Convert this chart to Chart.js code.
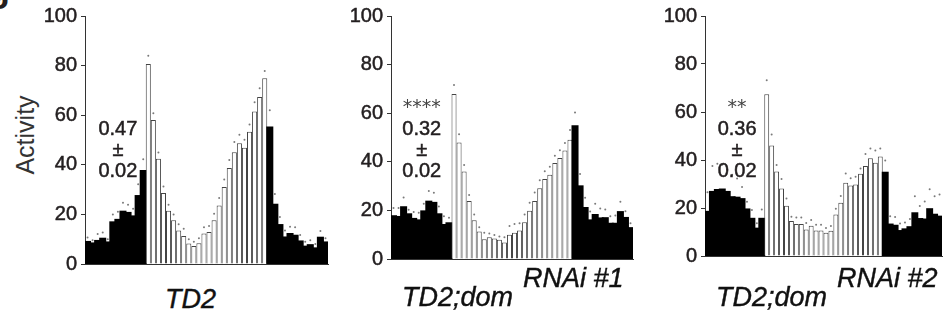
<!DOCTYPE html>
<html>
<head>
<meta charset="utf-8">
<script src="https://cdn.jsdelivr.net/npm/chart.js@4.4.1/dist/chart.umd.min.js"></script>
<style>
  html, body { margin: 0; padding: 0; background: #fff; overflow: hidden; }
  body { width: 946px; height: 320px; position: relative; font-family: "Liberation Sans", Arial, sans-serif; color: #231f20; }
  canvas { position: absolute; top: 0; }
  .lbl { position: absolute; font-style: italic; white-space: nowrap; line-height: 1; font-size: 27px; color: #111;
         -webkit-text-stroke: 0.4px #111; }
  #letter { position: absolute; left: -12px; top: -29px; font: bold 36px/1 "Liberation Sans", Arial, sans-serif; }
  #ytitle { position: absolute; left: 25px; top: 135px; font-size: 25px; line-height: 1; color: #333;
            transform: translate(-50%, -50%) rotate(-90deg); white-space: nowrap; }
</style>
</head>
<body>
<div id="letter">g</div>
<div id="ytitle">Activity</div>
<canvas id="c1" width="334" height="280" style="left:0px"></canvas>
<canvas id="c2" width="333" height="275" style="left:306px"></canvas>
<canvas id="c3" width="326" height="272" style="left:620px"></canvas>
<div class="lbl" style="left:165px; top:286px">TD2</div>
<div class="lbl" style="left:402px; top:284px">TD2;dom</div>
<div class="lbl" style="left:523px; top:265px">RNAi #1</div>
<div class="lbl" style="left:716px; top:284px">TD2;dom</div>
<div class="lbl" style="left:837px; top:265px">RNAi #2</div>
<script>
// 30-min bins over 24 h
const bins = [1,2,3,4,5,6,7,8,9,10,11,12,13,14,15,16,17,18,19,20,21,22,23,24,
              25,26,27,28,29,30,31,32,33,34,35,36,37,38,39,40,41,42,43,44,45,46,47,48];

// TD2
const td2Dark1 = [8.9, 8.3, 9.3, 10.2, 8.7, 16.8, 17.8, 21.1, 20.6, 19.2, 27.4, 37.5];
const td2Light = [80.6, 58.1, 42.4, 28.6, 21.5, 17.6, 13.5, 11.3, 8.3, 7.3, 8.4, 12.3,
                  12.9, 17.6, 23.6, 31.0, 38.7, 45.1, 48.7, 46.9, 53.3, 61.5, 67.3, 74.9];
const td2Dark2 = [55.0, 23.9, 15.7, 10.7, 12.1, 11.4, 9.1, 7.0, 7.6, 6.3, 10.6, 8.7];
const td2SemDark1 = [1.8, 1.3, 2.8, 2.5, 1.3, 3.2, 3.3, 3.6, 3.3, 3.1, 4.8, 4.7];
const td2SemLight = [3.4, 2.7, 2.6, 2.6, 2.4, 2.4, 2.5, 2.9, 1.7, 1.7, 2.0, 2.5,
                     2.4, 2.7, 3.0, 3.1, 3.2, 4.1, 3.4, 3.2, 2.9, 3.7, 3.6, 2.9];
const td2SemDark2 = [7.0, 4.3, 3.3, 2.8, 2.9, 3.4, 2.6, 2.0, 2.0, 1.8, 2.7, 1.7];

// TD2;dom RNAi #1
const rnai1Dark1 = [17.6, 17.3, 21.3, 18.4, 16.5, 15.9, 19.6, 23.6, 23.1, 18.4, 14.0, 14.7];
const rnai1Light = [67.9, 47.9, 36.0, 23.9, 15.9, 11.3, 8.1, 8.9, 8.4, 7.9, 6.8, 10.0,
                    10.8, 11.7, 15.1, 19.9, 23.9, 29.1, 32.9, 34.7, 39.5, 41.6, 44.7, 49.1];
const rnai1Dark2 = [54.6, 29.9, 21.0, 15.9, 18.1, 16.7, 16.8, 14.5, 14.5, 19.3, 16.9, 12.7];
const rnai1SemDark1 = [3.4, 3.7, 4.0, 1.9, 2.8, 3.1, 3.1, 4.4, 4.2, 3.2, 3.6, 2.3];
const rnai1SemLight = [3.7, 3.4, 2.7, 2.4, 2.4, 1.8, 2.7, 1.6, 1.5, 1.4, 2.1, 3.6,
                       3.6, 3.0, 3.2, 3.2, 3.5, 3.3, 3.2, 3.3, 3.0, 3.2, 3.0, 4.0];
const rnai1SemDark2 = [5.7, 5.1, 4.2, 3.6, 4.6, 4.1, 3.6, 3.1, 3.4, 4.3, 2.8, 2.0];

// TD2;dom RNAi #2
const rnai2Dark1 = [18.4, 26.7, 27.5, 27.7, 26.7, 24.5, 24.3, 23.7, 19.4, 15.5, 11.4, 15.5];
const rnai2Light = [67.4, 46.0, 35.2, 28.1, 20.9, 14.6, 13.3, 13.3, 11.0, 12.6, 10.6, 10.6,
                    9.7, 10.5, 17.3, 22.2, 30.5, 29.4, 29.8, 34.3, 37.5, 40.7, 38.9, 41.5];
const rnai2Dark2 = [34.7, 13.1, 12.6, 10.4, 11.1, 12.0, 17.8, 15.4, 15.2, 19.5, 17.2, 16.4];
const rnai2SemDark1 = [8.2, 10.8, 10.9, 10.3, 9.3, 9.4, 8.0, 5.1, 3.2, 3.7, 2.2, 3.9];
const rnai2SemLight = [5.8, 4.6, 2.7, 4.0, 3.1, 1.8, 2.7, 2.7, 2.7, 2.4, 2.4, 2.4,
                       2.0, 2.0, 2.4, 2.8, 3.9, 3.0, 3.2, 2.2, 5.0, 4.1, 5.1, 3.3];
const rnai2SemDark2 = [5.1, 3.5, 3.6, 3.1, 2.9, 3.4, 7.1, 5.4, 7.5, 8.3, 7.7, 9.2];

// morning anticipation index (mean ± sem) and significance
const indexMeans = ['0.47', '0.32', '0.36'];
const indexSems = ['0.02', '0.02', '0.02'];
const stars = ['', '****', '**'];

const panels = [
    { id: 'c1', d1: td2Dark1, l: td2Light, d2: td2Dark2, s1: td2SemDark1, sl: td2SemLight, s2: td2SemDark2, top: 16, right: 6, noteX: 6 },
    { id: 'c2', d1: rnai1Dark1, l: rnai1Light, d2: rnai1Dark2, s1: rnai1SemDark1, sl: rnai1SemLight, s2: rnai1SemDark2, top: 15, right: 6, noteX: 5.6 },
    { id: 'c3', d1: rnai2Dark1, l: rnai2Light, d2: rnai2Dark2, s1: rnai2SemDark1, sl: rnai2SemLight, s2: rnai2SemDark2, top: 14, right: 0, noteX: 6 }
];

// index text drawn over the left dark block
const notesPlugin = {
    id: 'notes',
    afterDraw(chart, args, opts) {
        const ctx = chart.ctx;
        const x = chart.scales.x.getPixelForValue(opts.x);
        ctx.save();
        ctx.textAlign = 'center';
        ctx.textBaseline = 'middle';
        if (opts.stars) {
            ctx.fillStyle = '#444';
            ctx.font = '19px "DejaVu Sans", sans-serif';
            ctx.fillText(opts.stars, x, 108);
        }
        ctx.fillStyle = '#231f20';
        ctx.strokeStyle = '#231f20';
        ctx.lineWidth = 0.5;
        ctx.font = '20px "Liberation Sans", Arial, sans-serif';
        [[opts.mean, 129], ['±', 150], [opts.sem, 171]].forEach(function (t) {
            ctx.fillText(t[0], x, t[1]);
            ctx.strokeText(t[0], x, t[1]);
        });
        ctx.restore();
    }
};

panels.forEach(function (p, k) {
    const values = p.d1.concat(p.l, p.d2);
    const sems = p.s1.concat(p.sl, p.s2);
    const isDark = p.d1.map(() => true).concat(p.l.map(() => false), p.d2.map(() => true));
    const canvas = document.getElementById(p.id);

    new Chart(canvas, {
        type: 'bar',
        data: {
            labels: bins,
            datasets: [{
                type: 'line',
                data: values.map((v, i) => v + sems[i]),
                showLine: false,
                pointRadius: 1,
                pointBackgroundColor: '#7a7a7a',
                pointBorderWidth: 0,
                order: 1
            }, {
                data: values,
                backgroundColor: isDark.map(d => d ? '#000' : '#fff'),
                borderColor: isDark.map(d => d ? '#000' : '#444'),
                borderWidth: isDark.map(d => d ? 0 : 1),
                inflateAmount: isDark.map(d => d ? 1 : 0),
                categoryPercentage: 1,
                barPercentage: 1,
                order: 2
            }]
        },
        options: {
            responsive: false,
            animation: false,
            layout: { padding: { top: p.top, right: p.right, bottom: 10, left: 0 } },
            plugins: {
                legend: { display: false },
                tooltip: { enabled: false },
                notes: { x: p.noteX, mean: indexMeans[k], sem: indexSems[k], stars: stars[k] }
            },
            scales: {
                x: {
                    ticks: { display: false },
                    grid: { display: false },
                    border: { display: true, color: '#333', width: 1 },
                    afterFit: s => { s.height = 0; }
                },
                y: {
                    min: 0,
                    max: 100,
                    afterFit: s => { s.width = 85; },
                    ticks: {
                        stepSize: 10,
                        padding: 4,
                        color: '#231f20',
                        textStrokeColor: '#231f20',
                        textStrokeWidth: 0.5,
                        font: { family: '"Liberation Sans", Arial, sans-serif', size: 20 },
                        callback: v => v % 20 === 0 ? v : ''
                    },
                    grid: { drawOnChartArea: false, tickLength: 4, color: '#333' },
                    border: { display: true, color: '#333', width: 1 }
                }
            }
        },
        plugins: [notesPlugin]
    });
});
</script>
</body>
</html>
